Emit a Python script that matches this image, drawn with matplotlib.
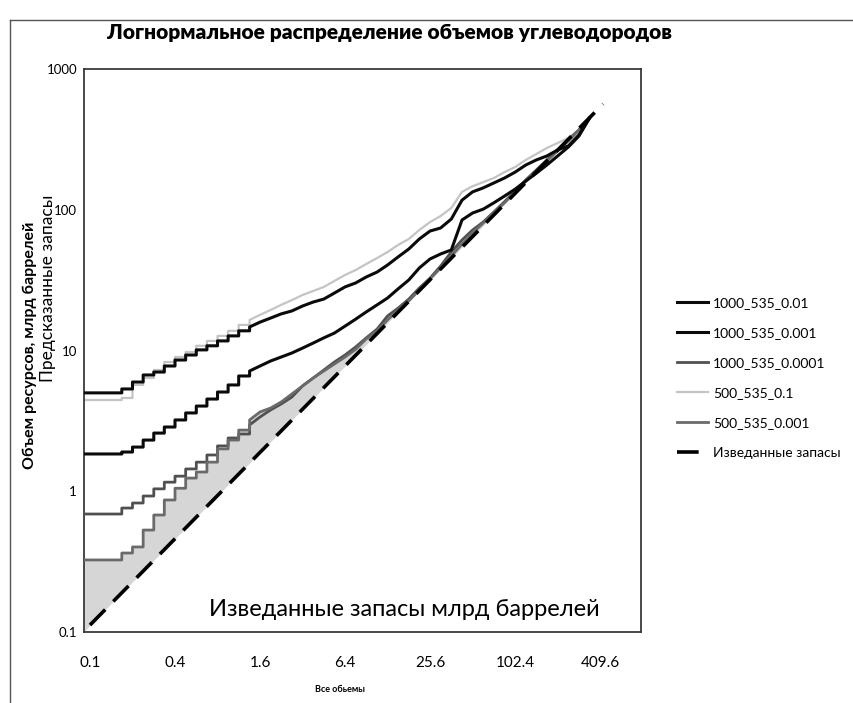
import numpy as np
import matplotlib
matplotlib.use("Agg")
import matplotlib.pyplot as plt
from matplotlib.lines import Line2D

plt.rcParams['font.family'] = ['Lato', 'DejaVu Sans']

# ---- data ----
volumes = [0.09, 0.119, 0.141, 0.168, 0.2, 0.238, 0.283, 0.336, 0.4, 0.476,
           0.566, 0.673, 0.8, 0.951, 1.13, 1.35, 1.6, 1.9, 2.26, 2.69,
           3.2, 3.81, 4.53, 5.38, 6.4, 7.61, 9.05, 10.8, 12.8, 15.2,
           18.1, 21.5, 25.6, 30.4, 36.2, 43.1, 51.2, 60.9, 72.4, 86.1,
           102.4, 122, 145, 172, 205, 244, 290, 345]

s_1000_535_001 = [5.0, 5.0, 5.0, 5.33, 5.97, 6.70, 7.03, 7.76, 8.56, 9.29,
                  10.1, 10.8, 11.7, 12.7, 13.8, 14.7, 15.9, 17.0, 18.2, 19.1,
                  20.7, 22.1, 23.2, 25.6, 28.3, 30.2, 33.3, 36.1, 40.5, 46.2,
                  52.6, 62.0, 70.6, 74.2, 85.9, 117, 134, 143, 155, 168,
                  185, 208, 226, 241, 266, 284, 340, 449]

s_1000_535_0001 = [1.84, 1.84, 1.84, 1.90, 2.06, 2.31, 2.59, 2.86, 3.21, 3.60,
                   4.03, 4.52, 5.07, 5.69, 6.59, 7.15, 7.76, 8.42, 8.99, 9.60,
                   10.4, 11.3, 12.3, 13.3, 14.9, 16.7, 18.8, 21.1, 23.6, 27.4,
                   31.7, 38.6, 44.7, 48.5, 51.8, 84.6, 94.8, 101, 112, 125,
                   140, 160, 182, 208, 241, 279, 334, 449]

s_1000_535_00001 = [0.689, 0.689, 0.689, 0.760, 0.825, 0.925, 1.04, 1.16, 1.28, 1.44,
                    1.61, 1.81, 2.10, 2.39, 2.55, 2.96, 3.37, 3.78, 4.17, 4.67,
                    5.60, 6.38, 7.27, 8.28, 9.29, 10.6, 12.3, 14.2, 17.6, 20.0,
                    23.2, 27.8, 32.7, 39.8, 50.1, 61.0, 71.8, 81.8, 96.4, 114,
                    136, 163, 192, 226, 266, 313, 369, 449]

s_500_535_01 = [4.45, 4.45, 4.45, 4.60, 5.69, 6.38, 7.27, 8.28, 8.99, 9.76,
                10.8, 11.7, 12.7, 13.8, 15.2, 16.5, 17.9, 19.4, 21.1, 22.8,
                24.8, 26.5, 28.3, 31.2, 34.4, 37.3, 41.2, 45.4, 50.1, 56.2,
                62.0, 71.8, 81.8, 90.3, 103, 134, 147, 157, 168, 185,
                201, 226, 249, 275, 298, 323, 369, 449]

s_500_535_0001 = [0.325, 0.325, 0.325, 0.364, 0.402, 0.530, 0.678, 0.867, 1.05, 1.24,
                  1.37, 1.61, 2.00, 2.31, 2.72, 3.21, 3.66, 3.90, 4.31, 4.91,
                  5.60, 6.38, 7.15, 8.02, 8.99, 10.2, 12.1, 13.8, 16.5, 19.4,
                  22.5, 26.9, 32.2, 38.6, 46.9, 57.1, 68.4, 80.5, 94.8, 112,
                  134, 160, 189, 222, 262, 308, 369, 449]

discovered_x = [0.1, 430]
discovered_y = [0.112, 564]

x_ticks = [0.1, 0.4, 1.6, 6.4, 25.6, 102.4, 409.6]
x_tick_labels = ["0.1", "0.4", "1.6", "6.4", "25.6", "102.4", "409.6"]
y_ticks = [0.1, 1, 10, 100, 1000]
y_tick_labels = ["0.1", "1", "10", "100", "1000"]

series_labels = ["1000_535_0.01", "1000_535_0.001", "1000_535_0.0001",
                 "500_535_0.1", "500_535_0.001", "Изведанные запасы"]

N_STEP = 15  # points drawn as a staircase (coarse low-volume part)


def path(xv, yv):
    """Staircase for the first points, plain line afterwards."""
    px, py = [], []
    for i in range(N_STEP):
        px += [xv[i], xv[i + 1]]
        py += [yv[i], yv[i]]
    px += list(xv[N_STEP:])
    py += list(yv[N_STEP:])
    return np.array(px), np.array(py)


# ---- figure ----
W, H = 854, 703
fig = plt.figure(figsize=(W / 100, H / 100), dpi=100)
L, R, T, B = 84, 641, 69, 632
ax = fig.add_axes([L / W, 1 - B / H, (R - L) / W, (B - T) / H])
ax.set_xscale('log')
ax.set_yscale('log')
ax.set_xlim(0.0907, 798)
ax.set_ylim(0.1, 1000)

fx, fy = path(volumes, s_500_535_0001)
lower = 10 ** np.interp(np.log10(fx), np.log10(discovered_x), np.log10(discovered_y),
                        left=np.log10(0.1))
ax.fill_between(fx, lower, fy, where=fy >= lower, interpolate=True,
                color='#d6d6d6', linewidth=0, zorder=1)

styles = [
    (s_1000_535_001, '#0a0a0a', 2.2, 4),
    (s_1000_535_0001, '#0a0a0a', 2.2, 4),
    (s_1000_535_00001, '#505050', 2.0, 3),
    (s_500_535_01, '#c4c4c4', 1.6, 2),
    (s_500_535_0001, '#6a6a6a', 2.0, 3),
]
for vals, col, lw, z in styles:
    px, py = path(volumes, vals)
    ax.plot(px, py, color=col, lw=lw, zorder=z, solid_joinstyle='round')
ax.plot(discovered_x, discovered_y, color='black', lw=2.6, dashes=(6, 3.2), zorder=5)

ax.set_xticks(x_ticks)
ax.set_xticklabels(x_tick_labels)
ax.set_yticks(y_ticks)
ax.set_yticklabels(y_tick_labels)
ax.minorticks_off()
ax.tick_params(axis='x', length=0, pad=17, labelsize=11)
ax.tick_params(axis='y', length=0, pad=5, labelsize=9.5)
for sp in ax.spines.values():
    sp.set_color('#3a3a3a')
    sp.set_linewidth(1.3)

# texts
fig.text(390 / W, 1 - 33 / H, "Логнормальное распределение объемов углеводородов",
         ha='center', va='center', fontsize=15, fontweight='heavy')
fig.text(404 / W, 1 - 610 / H, "Изведанные запасы млрд баррелей",
         ha='center', va='center', fontsize=17)
fig.text(340 / W, 1 - 690 / H, "Все обьемы", ha='center', va='center',
         fontsize=6.5, fontweight='bold')
fig.text(30 / W, 1 - 345 / H, "Объем ресурсов, млрд баррелей", rotation=90,
         ha='center', va='center', fontsize=11.5, fontweight='bold')
fig.text(48 / W, 1 - 288 / H, "Предсказанные запасы", rotation=90,
         ha='center', va='center', fontsize=12.5)

# legend
handles = [Line2D([], [], color='#0a0a0a', lw=2.2),
           Line2D([], [], color='#0a0a0a', lw=2.2),
           Line2D([], [], color='#505050', lw=2.0),
           Line2D([], [], color='#c4c4c4', lw=1.6),
           Line2D([], [], color='#6a6a6a', lw=2.0),
           Line2D([], [], color='black', lw=2.6, dashes=(6, 3.2))]
fig.legend(handles, series_labels, loc='upper left',
           bbox_to_anchor=(677 / W, 1 - 297 / H), frameon=False, fontsize=10,
           handlelength=2.2, handletextpad=0.4, labelspacing=1.3,
           borderpad=0, borderaxespad=0)

# outer frame (partially visible)
fig.add_artist(Line2D([10.5 / W, 10.5 / W], [0, 1 - 20 / H], color='#555555', lw=1.0))
fig.add_artist(Line2D([10.5 / W, 1], [1 - 20 / H, 1 - 20 / H], color='#555555', lw=1.0))

fig.savefig("out.png", dpi=100)
